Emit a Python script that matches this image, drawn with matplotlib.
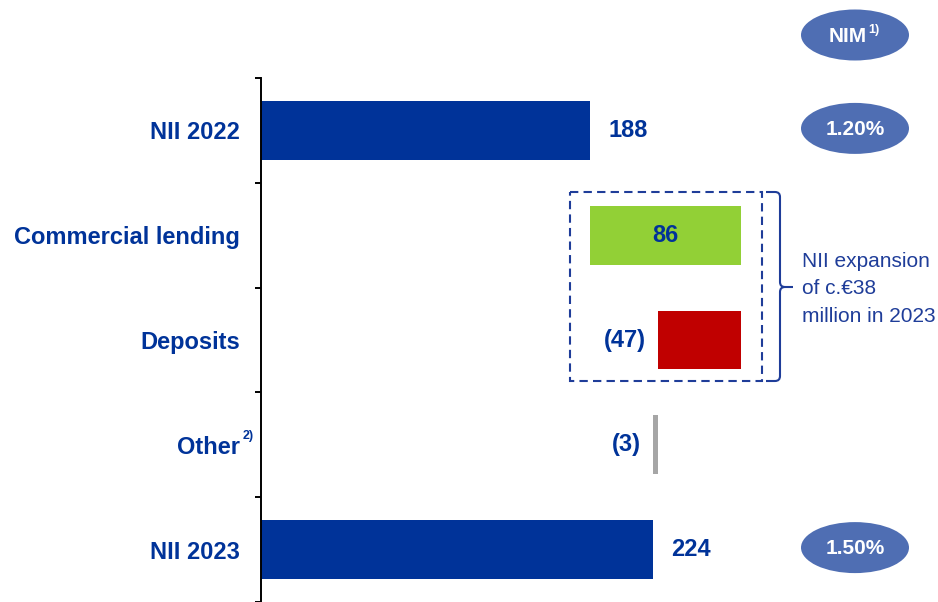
import matplotlib
matplotlib.use("Agg")
import matplotlib.pyplot as plt
from matplotlib.patches import Ellipse, Rectangle, PathPatch
from matplotlib.path import Path
import numpy as np

plt.rcParams["font.family"] = ["Liberation Sans", "DejaVu Sans"]

# NII bridge 2022 -> 2023 (EUR million)
categories = ["NII 2022", "Commercial lending", "Deposits", "Other", "NII 2023"]
values = [188, 86, -47, -3, 224]
kinds = ["total", "delta", "delta", "delta", "total"]
nim_labels = ["1.20%", None, None, None, "1.50%"]
bracket_text = "NII expansion\nof c.€38\nmillion in 2023"

NAVY = "#003399"
GREEN = "#92D036"
RED = "#C00000"
GREY = "#A6A6A6"
OVAL = "#4F6EB3"
TXT = "#1F3D99"

W, H = 938, 602
fig = plt.figure(figsize=(W / 100, H / 100), dpi=100)
ax = fig.add_axes([261 / W, 0, (W - 261) / W, (H - 78) / H])

# waterfall geometry
starts, colors = [], []
running = 0
for v, k in zip(values, kinds):
    if k == "total":
        starts.append(0)
        running = v
        colors.append(NAVY)
    else:
        starts.append(running)
        running += v
        colors.append(GREEN if v > 0 else (RED if v < -10 else GREY))

y = np.arange(len(categories))
ax.barh(y, values, left=starts, height=0.56, color=colors, edgecolor="none")

ax.set_xlim(0, (W - 261) / 1.75)
ax.set_ylim(4.5, -0.5)

for i, (v, s, k) in enumerate(zip(values, starts, kinds)):
    txt = str(v) if v >= 0 else f"({-v})"
    if k == "total":
        ax.annotate(txt, (s + v, i), xytext=(13, 0), textcoords="offset points",
                    ha="left", va="center", fontsize=17, fontweight="bold", color=NAVY)
    elif v > 0:
        ax.text(s + v / 2, i, txt, ha="center", va="center",
                fontsize=17, fontweight="bold", color=NAVY)
    else:
        ax.annotate(txt, (s + v, i), xytext=(-9, 0), textcoords="offset points",
                    ha="right", va="center", fontsize=17, fontweight="bold", color=NAVY)

# axis styling
for sp in ["top", "right", "bottom"]:
    ax.spines[sp].set_visible(False)
ax.spines["left"].set_linewidth(1.4)
ax.set_xticks([])
ax.set_yticks(y)
ax.set_yticklabels(categories, fontsize=17, fontweight="bold", color=NAVY)
ax.tick_params(axis="y", which="major", length=0, pad=15)
ax.set_yticks(np.arange(-0.5, 4.6, 1.0), minor=True)
ax.tick_params(axis="y", which="minor", length=4.3, width=1.4, direction="out")

# pixel-space overlay for annotations
ov = fig.add_axes([0, 0, 1, 1], zorder=5)
ov.set_xlim(0, W)
ov.set_ylim(H, 0)
ov.axis("off")

fig.canvas.draw()


def row_px(i):
    return H - ax.transData.transform((0, i))[1]


# superscript on "Other"
ov.text(243, 436, "2)", fontsize=9, fontweight="bold", color=NAVY, ha="left", va="center")

# NIM ovals
cx, ew, eh = 855, 108, 51
ov.add_patch(Ellipse((cx, 35), ew, eh, facecolor=OVAL, edgecolor="none"))
ov.text(867, 37, "NIM", fontsize=15, fontweight="bold", color="white", ha="right", va="center")
ov.text(868, 30, "1)", fontsize=9, fontweight="bold", color="white", ha="left", va="center")
for i, lab in enumerate(nim_labels):
    if lab is None:
        continue
    yy = row_px(i) - 2
    ov.add_patch(Ellipse((cx, yy), ew, eh, facecolor=OVAL, edgecolor="none"))
    ov.text(cx, yy + 1, lab, fontsize=15, fontweight="bold", color="white",
            ha="center", va="center")

# dashed box around the drivers
ov.add_patch(Rectangle((570, 192), 192, 189, fill=False, edgecolor=TXT,
                       linewidth=1.5, linestyle=(0, (4, 2.5))))

# curly bracket
bx, top, bot, mid = 780, 192, 381, 287
verts = [(766, top), (775, top), (bx, top), (bx, top + 5), (bx, mid - 5),
         (bx, mid), (bx + 5, mid), (793, mid)]
codes = [Path.MOVETO, Path.LINETO, Path.CURVE3, Path.CURVE3, Path.LINETO,
         Path.CURVE3, Path.CURVE3, Path.LINETO]
ov.add_patch(PathPatch(Path(verts, codes), fill=False, edgecolor=TXT, linewidth=1.5))
verts2 = [(766, bot), (775, bot), (bx, bot), (bx, bot - 5), (bx, mid + 5),
          (bx, mid), (bx + 5, mid)]
codes2 = [Path.MOVETO, Path.LINETO, Path.CURVE3, Path.CURVE3, Path.LINETO,
          Path.CURVE3, Path.CURVE3]
ov.add_patch(PathPatch(Path(verts2, codes2), fill=False, edgecolor=TXT, linewidth=1.5))
ov.text(802, 289, bracket_text, fontsize=15, color=TXT, ha="left", va="center",
        linespacing=1.55)

fig.savefig("out.png", dpi=100)
